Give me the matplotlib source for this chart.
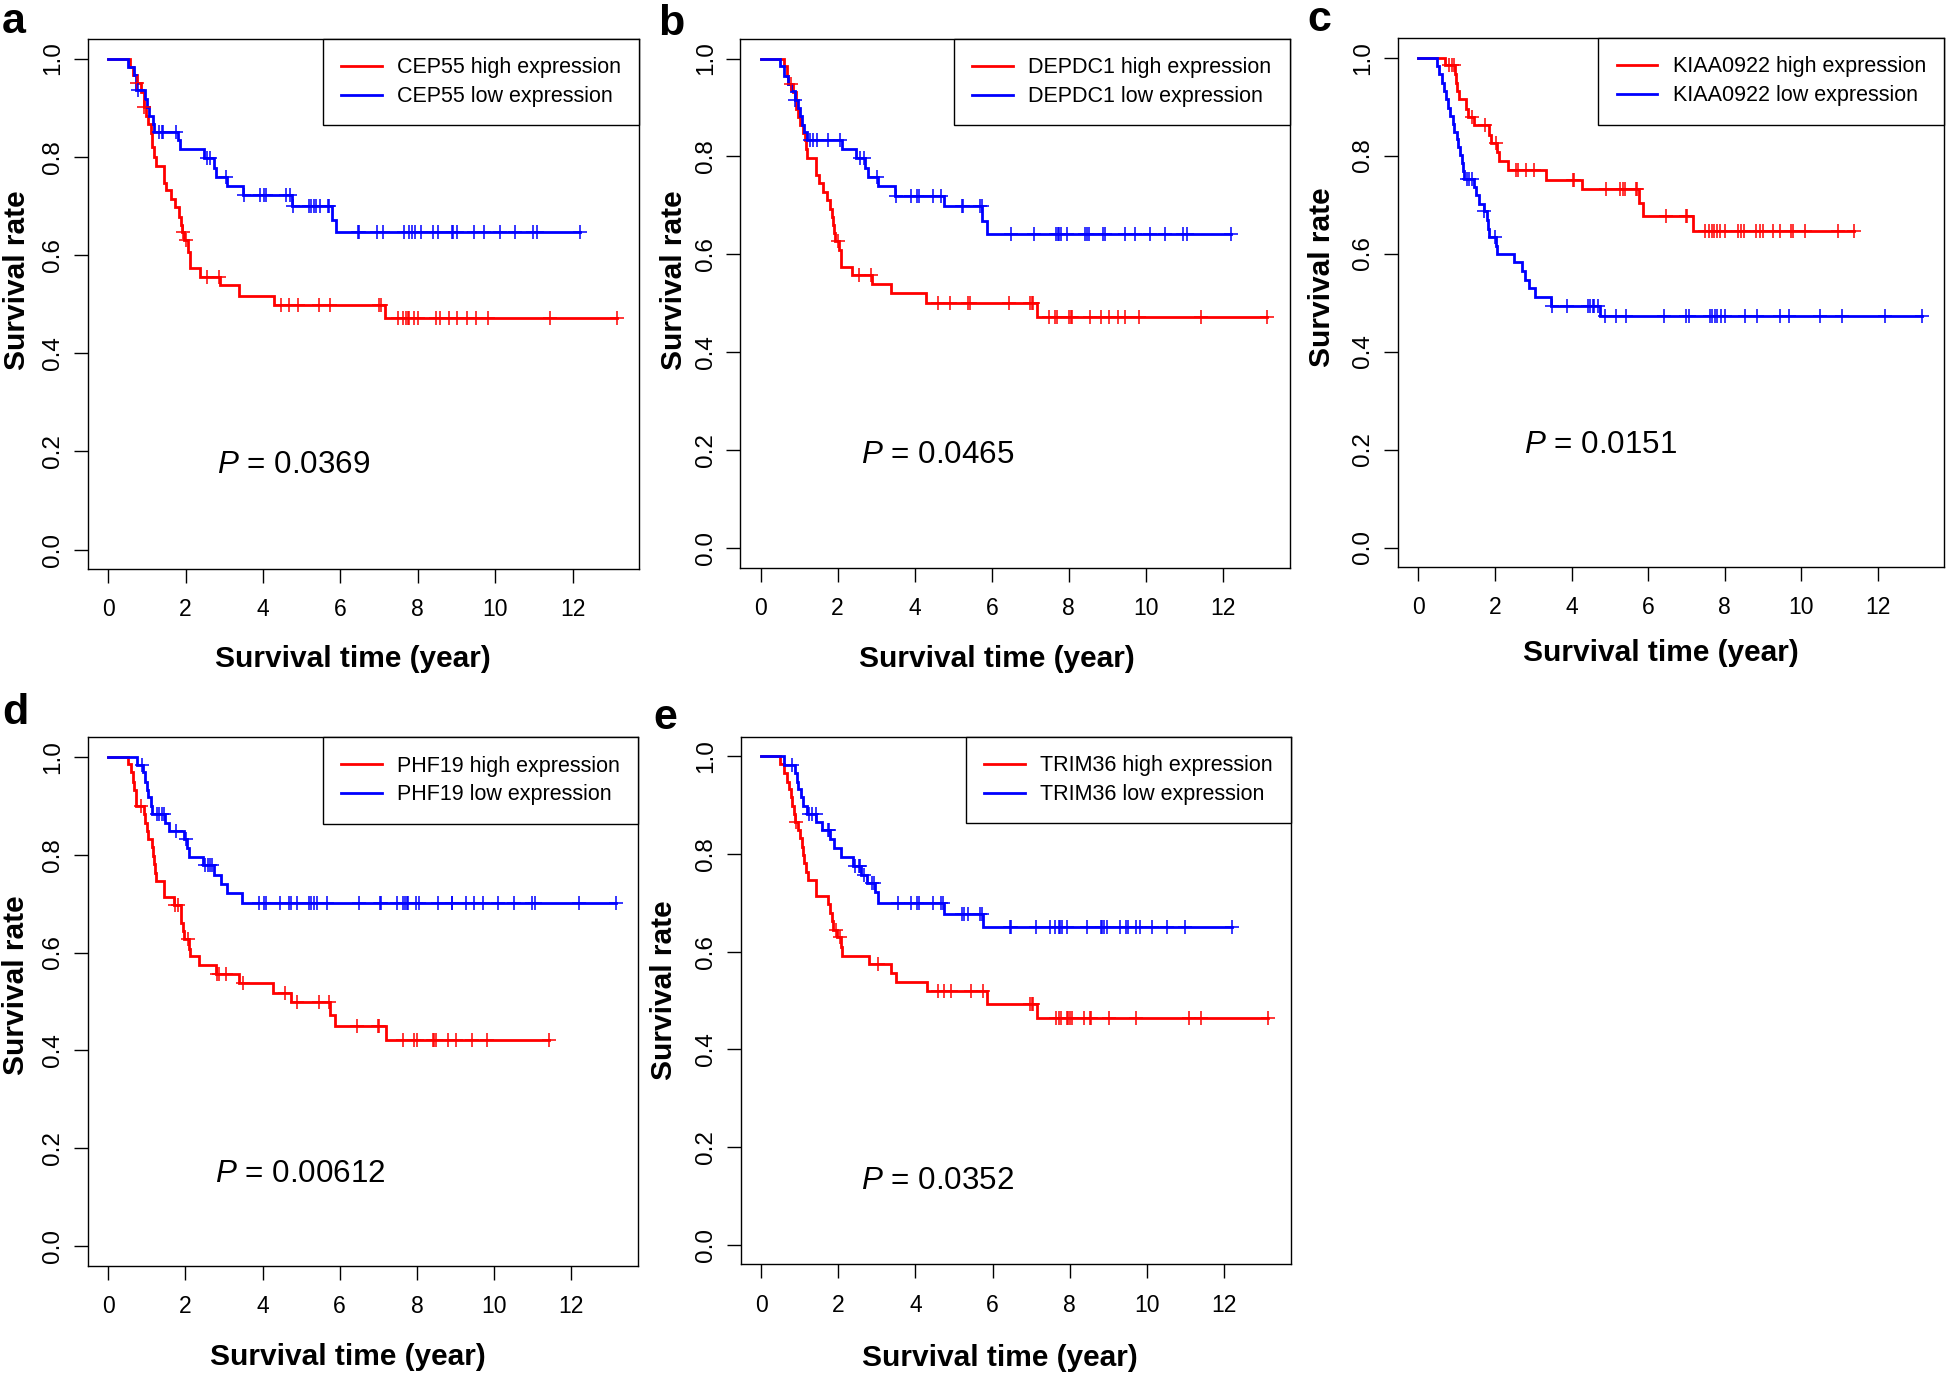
import numpy as np
import matplotlib
matplotlib.use('Agg')
import matplotlib.pyplot as plt

plt.rcParams['font.family'] = ['Liberation Sans', 'DejaVu Sans']
plt.rcParams['mathtext.fontset'] = 'custom'
plt.rcParams['mathtext.rm'] = 'Liberation Sans'
plt.rcParams['mathtext.it'] = 'Liberation Sans:italic'

# ---------------- data ----------------
GENES = ['CEP55', 'DEPDC1', 'KIAA0922', 'PHF19', 'TRIM36']
LETTERS = ['a', 'b', 'c', 'd', 'e']
PVALUES = ['0.0369', '0.0465', '0.0151', '0.00612', '0.0352']
P_POS_X = [2.81, 2.61, 2.77, 2.78, 2.60]
P_POS_Y = [0.156, 0.173, 0.193, 0.132, 0.114]

# panel a : CEP55
A_HIGH_T = [0.575, 0.646, 0.735, 0.86, 0.922, 0.967, 1.038, 1.109, 1.145, 1.189, 1.234, 1.457, 1.501,
            1.617, 1.733, 1.84, 1.893, 1.91, 1.97, 2.062, 2.107, 2.374, 2.891, 3.39, 4.289, 7.166]
A_HIGH_S = [0.983, 0.966, 0.951, 0.932, 0.902, 0.883, 0.867, 0.848, 0.820, 0.800, 0.781, 0.747, 0.732,
            0.713, 0.697, 0.678, 0.661, 0.647, 0.630, 0.607, 0.573, 0.556, 0.538, 0.517, 0.498, 0.471]
A_HIGH_C = [0.74, 0.93, 1.93, 2.0, 2.552, 2.864, 4.467, 4.672, 4.913, 5.447, 5.741, 6.988, 7.05, 7.496,
            7.629, 7.7, 7.745, 7.781, 7.914, 8.003, 8.475, 8.565, 8.805, 9.01, 9.277, 9.5, 9.829, 11.415, 13.152]
A_LOW_T = [0.504, 0.682, 0.726, 0.949, 0.994, 1.056, 1.172, 1.198, 1.795, 1.858, 2.481, 2.73, 2.784,
           3.069, 3.496, 4.752, 5.777, 5.892]
A_LOW_S = [0.983, 0.966, 0.935, 0.917, 0.901, 0.883, 0.867, 0.851, 0.834, 0.815, 0.797, 0.778, 0.759,
           0.741, 0.722, 0.700, 0.671, 0.646]
A_LOW_C = [0.77, 1.305, 1.394, 1.421, 1.751, 2.552, 2.641, 3.04, 3.514, 3.915, 4.04, 4.093, 4.6, 4.69, 4.78,
           5.198, 5.251, 5.313, 5.385, 5.465, 5.67, 5.714, 6.454, 6.471, 6.961, 7.095, 7.647, 7.781, 7.852,
           7.941, 8.075, 8.386, 8.52, 8.876, 8.921, 9.01, 9.455, 9.722, 10.123, 10.506, 10.969, 11.085, 12.199]

# panel b : DEPDC1
B_HIGH_T = [0.617, 0.688, 0.724, 0.84, 0.93, 0.974, 1.019, 1.108, 1.153, 1.171, 1.198, 1.439, 1.511, 1.618,
            1.734, 1.797, 1.842, 1.868, 1.895, 1.94, 2.029, 2.074, 2.36, 2.897, 3.389, 4.301, 7.162]
B_HIGH_S = [0.984, 0.965, 0.948, 0.931, 0.897, 0.88, 0.865, 0.848, 0.833, 0.816, 0.797, 0.761, 0.745, 0.727,
            0.71, 0.693, 0.676, 0.659, 0.643, 0.627, 0.608, 0.575, 0.557, 0.539, 0.52, 0.501, 0.472]
B_HIGH_C = [0.777, 2.003, 2.566, 2.87, 4.596, 4.909, 5.383, 5.445, 6.447, 6.983, 7.037, 7.073, 7.484, 7.636,
            7.681, 7.994, 8.056, 8.083, 8.557, 8.826, 9.04, 9.273, 9.451, 9.827, 11.419, 13.135]
B_LOW_T = [0.509, 0.599, 0.706, 0.777, 0.885, 0.974, 1.019, 1.082, 1.135, 1.198, 2.119, 2.477, 2.718, 2.781,
           3.049, 3.496, 4.748, 5.758, 5.874]
B_LOW_S = [0.984, 0.965, 0.948, 0.933, 0.916, 0.899, 0.882, 0.865, 0.85, 0.833, 0.815, 0.797, 0.777, 0.758,
           0.739, 0.72, 0.698, 0.668, 0.641]
B_LOW_C = [0.9, 1.287, 1.35, 1.466, 1.761, 2.065, 2.584, 2.673, 3.02, 3.523, 3.907, 4.059, 4.104, 4.462, 4.685,
           5.222, 5.266, 5.696, 5.74, 6.491, 7.1, 7.654, 7.708, 7.752, 7.797, 7.949, 8.414, 8.468, 8.53, 8.888,
           8.933, 9.469, 9.72, 10.113, 10.498, 10.972, 11.079, 12.197]

# panel c : KIAA0922
C_HIGH_T = [0.687, 0.957, 0.984, 1.02, 1.074, 1.254, 1.29, 1.452, 1.856, 1.901, 2.063, 2.099, 2.351, 3.34,
            4.284, 5.768, 5.857, 7.161]
C_HIGH_S = [0.985, 0.966, 0.949, 0.932, 0.915, 0.896, 0.879, 0.862, 0.843, 0.825, 0.807, 0.789, 0.771, 0.751,
            0.731, 0.704, 0.677, 0.647]
C_HIGH_C = [0.804, 0.867, 0.93, 1.407, 1.739, 2.036, 2.549, 2.603, 2.818, 3.025, 4.041, 4.077, 4.913, 5.273,
            5.336, 5.408, 5.678, 5.723, 6.46, 6.981, 7.026, 7.476, 7.584, 7.656, 7.727, 7.79, 7.88, 8.015, 8.357,
            8.42, 8.51, 8.807, 8.914, 9.004, 9.256, 9.454, 9.724, 9.796, 10.101, 10.964, 11.387]
C_LOW_T = [0.481, 0.553, 0.624, 0.661, 0.714, 0.777, 0.822, 0.894, 0.93, 1.002, 1.047, 1.092, 1.137, 1.164,
           1.182, 1.452, 1.497, 1.587, 1.703, 1.793, 1.829, 1.856, 2.036, 2.063, 2.486, 2.71, 2.782, 2.89,
           3.052, 3.475, 4.733]
C_LOW_S = [0.983, 0.966, 0.949, 0.932, 0.915, 0.898, 0.881, 0.864, 0.849, 0.833, 0.818, 0.801, 0.785, 0.769,
           0.753, 0.736, 0.72, 0.702, 0.687, 0.668, 0.651, 0.634, 0.615, 0.6, 0.583, 0.565, 0.547, 0.529,
           0.511, 0.493, 0.472]
C_LOW_C = [1.272, 1.317, 1.407, 1.721, 1.991, 3.502, 3.879, 4.419, 4.49, 4.553, 4.598, 4.688, 4.886, 5.156,
           5.426, 6.415, 6.981, 7.071, 7.611, 7.674, 7.746, 7.79, 7.907, 8.015, 8.537, 8.843, 9.454, 9.678,
           10.488, 11.055, 12.178, 13.14]

# panel d : PHF19
D_HIGH_T = [0.502, 0.592, 0.636, 0.681, 0.726, 0.931, 0.949, 0.994, 1.038, 1.128, 1.172, 1.19, 1.217, 1.235,
            1.44, 1.70, 1.887, 1.932, 1.977, 2.093, 2.129, 2.361, 2.781, 3.38, 4.282, 4.747, 5.757, 5.882, 7.186]
D_HIGH_S = [0.985, 0.968, 0.949, 0.933, 0.9, 0.883, 0.865, 0.849, 0.831, 0.815, 0.797, 0.781, 0.763, 0.747,
            0.714, 0.697, 0.66, 0.643, 0.627, 0.607, 0.592, 0.575, 0.557, 0.537, 0.518, 0.498, 0.472, 0.45, 0.421]
D_HIGH_C = [0.86, 1.72, 1.80, 2.066, 2.808, 2.87, 3.049, 3.496, 4.586, 4.899, 5.462, 5.73, 6.445, 6.981, 7.008,
            7.651, 7.937, 7.99, 8.41, 8.455, 8.5, 8.812, 9.009, 9.438, 9.813, 11.422]
D_LOW_T = [0.753, 0.904, 0.949, 0.994, 1.038, 1.1, 1.146, 1.467, 1.575, 1.977, 2.039, 2.093, 2.468, 2.736,
           2.915, 3.076, 3.469]
D_LOW_S = [0.983, 0.968, 0.949, 0.933, 0.917, 0.9, 0.883, 0.865, 0.849, 0.831, 0.813, 0.796, 0.779, 0.758,
           0.741, 0.721, 0.702]
D_LOW_C = [0.878, 1.262, 1.324, 1.396, 1.44, 1.753, 2.01, 2.513, 2.575, 2.629, 2.7, 3.898, 4.032, 4.077, 4.452,
           4.684, 4.747, 4.899, 5.193, 5.256, 5.345, 5.417, 5.667, 6.489, 7.043, 7.07, 7.472, 7.651, 7.696, 7.74,
           7.767, 7.964, 8.053, 8.545, 8.902, 8.92, 9.277, 9.483, 9.724, 10.108, 10.51, 10.975, 11.065, 12.19,
           13.146]

# panel e : TRIM36
E_HIGH_T = [0.499, 0.588, 0.677, 0.713, 0.767, 0.802, 0.84, 0.87, 0.963, 1.008, 1.071, 1.097, 1.124, 1.16,
            1.214, 1.428, 1.723, 1.785, 1.839, 1.875, 1.96, 2.07, 2.107, 2.795, 3.358, 3.483, 4.288, 5.86, 7.147]
E_HIGH_S = [0.985, 0.967, 0.948, 0.933, 0.916, 0.898, 0.882, 0.866, 0.849, 0.832, 0.815, 0.798, 0.781, 0.764,
            0.747, 0.714, 0.698, 0.679, 0.662, 0.645, 0.63, 0.61, 0.591, 0.575, 0.557, 0.539, 0.52, 0.494, 0.465]
E_HIGH_C = [0.90, 1.946, 2.053, 3.036, 4.582, 4.734, 4.913, 5.449, 5.744, 6.968, 7.022, 7.057, 7.647, 7.71,
            7.772, 7.915, 7.951, 8.005, 8.067, 8.38, 8.514, 8.559, 9.023, 9.72, 11.079, 11.4, 13.134]
E_LOW_T = [0.606, 0.874, 0.919, 0.963, 1.035, 1.097, 1.187, 1.428, 1.589, 1.785, 1.902, 2.08, 2.375, 2.6,
           2.732, 2.95, 3.036, 4.734, 5.744]
E_LOW_S = [0.983, 0.967, 0.948, 0.933, 0.916, 0.898, 0.883, 0.866, 0.849, 0.83, 0.812, 0.795, 0.776, 0.757,
           0.741, 0.723, 0.7, 0.677, 0.65]
E_LOW_C = [0.803, 1.232, 1.321, 1.41, 1.723, 1.77, 2.438, 2.527, 2.572, 2.679, 2.884, 2.929, 3.537, 3.894,
           4.046, 4.09, 4.448, 4.672, 4.72, 5.208, 5.27, 5.36, 5.681, 5.73, 6.459, 6.486, 7.111, 7.487, 7.62,
           7.71, 7.754, 7.799, 7.915, 8.451, 8.809, 8.845, 8.898, 8.961, 9.291, 9.452, 9.497, 9.703, 9.81,
           10.123, 10.507, 10.972, 12.205]

CURVES = [
    (A_HIGH_T, A_HIGH_S, A_HIGH_C, A_LOW_T, A_LOW_S, A_LOW_C),
    (B_HIGH_T, B_HIGH_S, B_HIGH_C, B_LOW_T, B_LOW_S, B_LOW_C),
    (C_HIGH_T, C_HIGH_S, C_HIGH_C, C_LOW_T, C_LOW_S, C_LOW_C),
    (D_HIGH_T, D_HIGH_S, D_HIGH_C, D_LOW_T, D_LOW_S, D_LOW_C),
    (E_HIGH_T, E_HIGH_S, E_HIGH_C, E_LOW_T, E_LOW_S, E_LOW_C),
]

X_TICKS = [0, 2, 4, 6, 8, 10, 12]
Y_TICKS = [0.0, 0.2, 0.4, 0.6, 0.8, 1.0]
Y_TICK_LABELS = ['0.0', '0.2', '0.4', '0.6', '0.8', '1.0']

# ---------------- layout (pixels of a 1946x1375 canvas) ----------------
W, H = 1946, 1375
# x of t=0, pixels per year, y of S=1, y of S=0
LAYOUT = [
    (108.1, 38.70, 58.5, 549.6),
    (760.6, 38.53, 58.5, 548.0),
    (1418.3, 38.30, 57.6, 547.5),
    (108.2, 38.59, 756.8, 1246.1),
    (761.1, 38.59, 756.4, 1244.8),
]
LETTER_POS = [(2, 33), (658, 35), (1307, 31), (2, 724), (653, 729)]
YLAB_POS = [(17, 280), (674, 280), (1322, 277), (16, 985), (664, 990)]
XLAB_POS = [(353, 667), (997, 667), (1661, 661), (348, 1365), (1000, 1366)]

XLIM = (-0.528, 13.728)
YLIM = (-0.04, 1.04)
RED = '#FF0000'
BLUE = '#0000FF'

fig = plt.figure(figsize=(W / 100, H / 100), dpi=100)


def fx(px):
    return px / W


def fy(py):
    return 1 - py / H


def km_xy(t, s, cens):
    t_end = max(max(t), max(cens))
    x = np.concatenate([[0.0], t, [t_end]])
    y = np.concatenate([[1.0], s, [s[-1]]])
    return x, y


def level_at(t, s, times):
    idx = np.searchsorted(np.asarray(t), np.asarray(times), side='right')
    lv = np.concatenate([[1.0], s])
    return lv[idx]


for i in range(5):
    x0, ppy, y1, y0 = LAYOUT[i]
    left = x0 + XLIM[0] * ppy
    right = x0 + XLIM[1] * ppy
    span = y0 - y1
    top = y1 - (YLIM[1] - 1.0) * span
    bottom = y0 - YLIM[0] * span
    ax = fig.add_axes([fx(left), fy(bottom), (right - left) / W, (bottom - top) / H])

    ht, hs, hc, lt, ls, lc = CURVES[i]
    hx, hy = km_xy(ht, hs, hc)
    lx, ly = km_xy(lt, ls, lc)
    h_line, = ax.step(hx, hy, where='post', color=RED, lw=2.0, solid_joinstyle='miter')
    l_line, = ax.step(lx, ly, where='post', color=BLUE, lw=2.0, solid_joinstyle='miter')
    ax.plot(hc, level_at(ht, hs, hc), ls='none', marker='+', ms=10, mew=1.1, color=RED)
    ax.plot(lc, level_at(lt, ls, lc), ls='none', marker='+', ms=10, mew=1.1, color=BLUE)

    ax.set_xlim(*XLIM)
    ax.set_ylim(*YLIM)
    ax.set_xticks(X_TICKS)
    ax.set_xticklabels([str(v) for v in X_TICKS])
    ax.set_yticks(Y_TICKS)
    ax.set_yticklabels(Y_TICK_LABELS)
    for sp in ax.spines.values():
        sp.set_linewidth(1.0)
        sp.set_color('black')
    ax.tick_params(axis='both', direction='out', length=10, width=1.0, colors='black')
    ax.tick_params(axis='x', pad=11, labelsize=16.5)
    ax.tick_params(axis='y', pad=7, labelrotation=90, labelsize=17.5)
    for lab in ax.get_yticklabels():
        lab.set_va('center')

    leg = ax.legend([h_line, l_line],
                    [GENES[i] + ' high expression', GENES[i] + ' low expression'],
                    loc='upper right', borderaxespad=0, fancybox=False, edgecolor='black',
                    framealpha=1, fontsize=15.5, handlelength=1.9, handletextpad=0.7,
                    borderpad=0.85, labelspacing=0.37)
    leg.get_frame().set_linewidth(1.0)

    ax.text(P_POS_X[i], P_POS_Y[i], r'$P$ = ' + PVALUES[i], fontsize=22.6,
            ha='left', va='baseline', color='black')

    fig.text(fx(LETTER_POS[i][0]), fy(LETTER_POS[i][1]), LETTERS[i], fontsize=31,
             fontweight='bold', ha='left', va='baseline')
    fig.text(fx(YLAB_POS[i][0]), fy(YLAB_POS[i][1]), 'Survival rate', fontsize=21.5,
             fontweight='bold', rotation=90, ha='center', va='center')
    fig.text(fx(XLAB_POS[i][0]), fy(XLAB_POS[i][1]), 'Survival time (year)', fontsize=21.5,
             fontweight='bold', ha='center', va='baseline')

fig.savefig('out.png', dpi=100, facecolor='white')
